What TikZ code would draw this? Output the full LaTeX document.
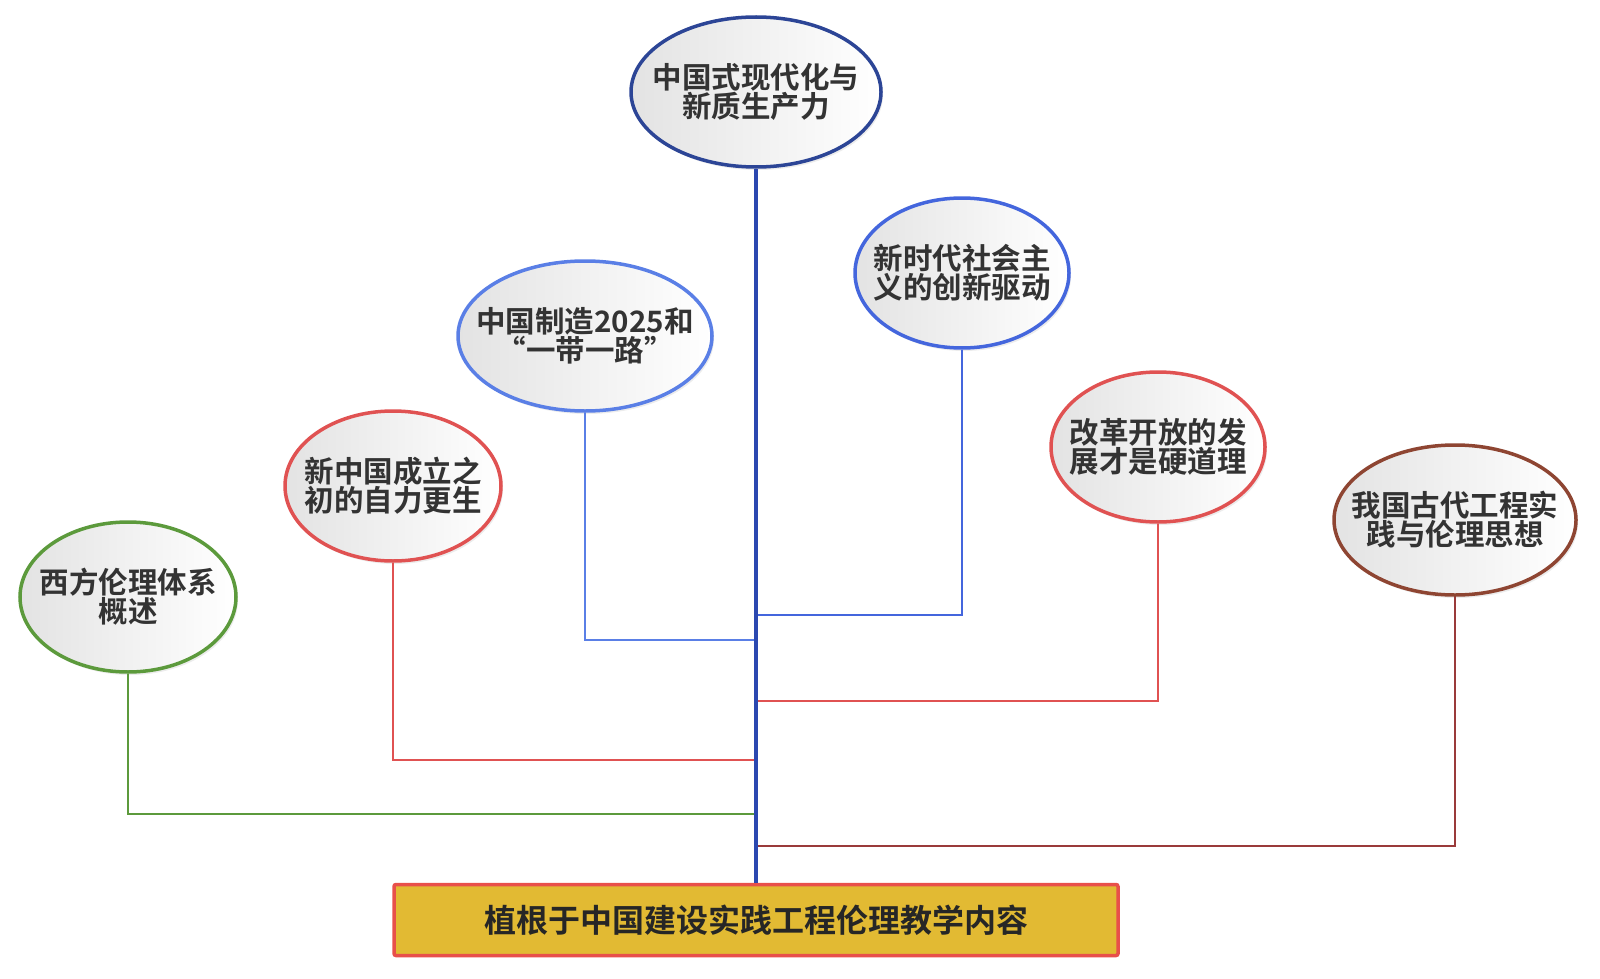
\documentclass[tikz,border=0pt]{standalone}
\usepackage{fontspec}
\newfontfamily\cjk{Noto Sans CJK SC}[BoldFont={Noto Sans CJK SC Bold}]
\usetikzlibrary{shapes.geometric,shadows}
\definecolor{topblue}{HTML}{2C4596}
\definecolor{mainblue}{HTML}{2B48B0}
\definecolor{eraBlue}{HTML}{4466DD}
\definecolor{mfgBlue}{HTML}{5A7FE6}
\definecolor{redc}{HTML}{E05252}
\definecolor{greenc}{HTML}{5C9A3C}
\definecolor{brownc}{HTML}{8E4532}
\definecolor{brownline}{HTML}{9A3A3A}
\definecolor{gold}{HTML}{E2BA33}
\definecolor{boxred}{HTML}{E8504A}
\definecolor{txtc}{HTML}{333333}
\tikzset{
  bub/.style={ellipse, line width=3.5pt, inner sep=0pt, left color=black!11, right color=white,
    drop shadow={shadow xshift=2pt, shadow yshift=-3pt, opacity=0.15}},
  txt/.style={font=\cjk\bfseries\fontsize{29.5}{29}\selectfont, text=txtc, align=center, inner sep=0pt},
  conn/.style={line width=2.4pt},
}
\begin{document}
\begin{tikzpicture}[x=1pt,y=-1pt]
\useasboundingbox (0,0) rectangle (1600,979);
% junction coordinates on the trunk
\coordinate (j1) at (756,615);
\coordinate (j2) at (756,640);
\coordinate (j3) at (756,701);
\coordinate (j4) at (756,760);
\coordinate (j5) at (756,814);
\coordinate (j6) at (756,846);
% nodes
\node[bub, draw=topblue, minimum width=250pt, minimum height=150pt] (top) at (756,92) {};
\node[bub, draw=eraBlue, minimum width=214pt, minimum height=150pt] (era) at (962,273) {};
\node[bub, draw=mfgBlue, minimum width=254pt, minimum height=150pt] (mfg) at (585,336) {};
\node[bub, draw=redc, minimum width=216pt, minimum height=150pt] (ind) at (393,486) {};
\node[bub, draw=greenc, minimum width=216pt, minimum height=150pt] (west) at (128,597) {};
\node[bub, draw=redc, minimum width=214pt, minimum height=150pt] (ref) at (1158,447) {};
\node[bub, draw=brownc, minimum width=242pt, minimum height=150pt] (anc) at (1455,520) {};
\node[draw=boxred, fill=gold, line width=3.5pt, rounded corners=2pt, minimum width=724pt, minimum height=71pt, inner sep=0pt] (box) at (756,920) {};
% texts
\node[txt] at (top) {中国式现代化与\\新质生产力};
\node[txt] at (era) {新时代社会主\\义的创新驱动};
\node[txt] at (mfg) {中国制造2025和\\“一带一路”};
\node[txt] at (ind) {新中国成立之\\初的自力更生};
\node[txt] at (west) {西方伦理体系\\概述};
\node[txt] at (ref) {改革开放的发\\展才是硬道理};
\node[txt] at (anc) {我国古代工程实\\践与伦理思想};
\node[txt, font=\cjk\bfseries\fontsize{32}{32}\selectfont, text=black!85] at (box) {植根于中国建设实践工程伦理教学内容};
% connectors
\draw[conn, draw=eraBlue] (era.south) |- (j1);
\draw[conn, draw=mfgBlue] (mfg.south) |- (j2);
\draw[conn, draw=redc] (ref.south) |- (j3);
\draw[conn, draw=redc] (ind.south) |- (j4);
\draw[conn, draw=greenc] (west.south) |- (j5);
\draw[conn, draw=brownline] (anc.south) |- (j6);
\draw[line width=4pt, draw=mainblue] (top.south) -- (box.north);
\end{tikzpicture}
\end{document}
